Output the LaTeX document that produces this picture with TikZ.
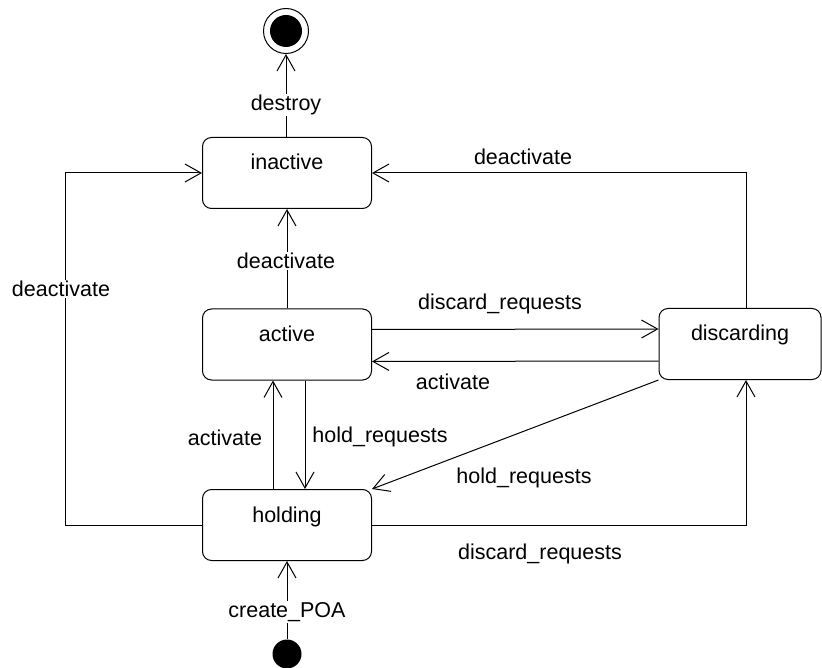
\documentclass[tikz,border=0pt]{standalone}
\usepackage{fontspec}
\setmainfont{Liberation Sans}
\usetikzlibrary{arrows.meta}
\begin{document}
\begin{tikzpicture}[x = 1pt, y = -1pt, line width = 1pt,
  font = \fontsize{21.5}{26}\selectfont,
  state/.style = {draw, rounded corners = 9pt, minimum width = 169pt, minimum height = 71pt,
    text height = 16pt, text depth = 22pt, inner sep = 0pt},
  trans/.style = {-{Straight Barb[length = 16pt, width = 18pt]}},
  lbl/.style = {fill = white, inner sep = 1pt}]
\useasboundingbox (0, 0) rectangle (822, 668);
% states
\node (final) at (286, 31) [circle, draw, minimum size = 45pt, inner sep = 0pt,
  path picture = {\fill (path picture bounding box.center) circle (16pt);}] {};
\node (inactive) at (287, 173) [state] {inactive};
\node (active) at (287, 344.5) [state] {active};
\node (discarding) at (740, 344) [state, minimum width = 162pt] {discarding};
\node (holding) at (287, 525) [state] {holding};
\node (start) at (287, 654) [circle, fill, minimum size = 29pt, inner sep = 0pt] {};
% transitions
\draw [trans] (inactive.north -| final) -- (final);
\draw [trans] (active) -- (inactive);
\draw [trans] (holding.west) -- ++(-137, 0) |- (inactive.west);
\draw [trans] ([xshift = 6pt]discarding.north) |- (inactive.east);
\draw [trans] ([yshift = 15pt]active.east) -- ([yshift = 15pt]discarding.west);
\draw [trans] ([yshift = -17pt]discarding.west) -- ([yshift = -17pt]active.east);
\draw [trans] ([xshift = -14pt]holding.north) -- ([xshift = -14pt]active.south);
\draw [trans] ([xshift = 18pt]active.south) -- ([xshift = 18pt]holding.north);
\draw [trans] (discarding.south west) -- (holding.north east);
\draw [trans] (holding.east) -| ([xshift = 6pt]discarding.south);
\draw [trans] (start) -- (holding);
% labels
\node (destroy) at (286, 105) [lbl] {destroy};
\node (deact_mid) at (286, 261) [lbl] {deactivate};
\node (deact_left) at (61, 289) [lbl] {deactivate};
\node (deact_right) at (523, 157) {deactivate};
\node (discard_top) at (500, 304) {discard\_requests};
\node (act_under) at (453, 382) {activate};
\node (act_left) at (225, 438) {activate};
\node (hold_vert) at (380, 437) {hold\_requests};
\node (hold_diag) at (524, 478) {hold\_requests};
\node (discard_bot) at (540, 554) {discard\_requests};
\node (create) at (287, 612) [lbl] {create\_POA};
\end{tikzpicture}
\end{document}
